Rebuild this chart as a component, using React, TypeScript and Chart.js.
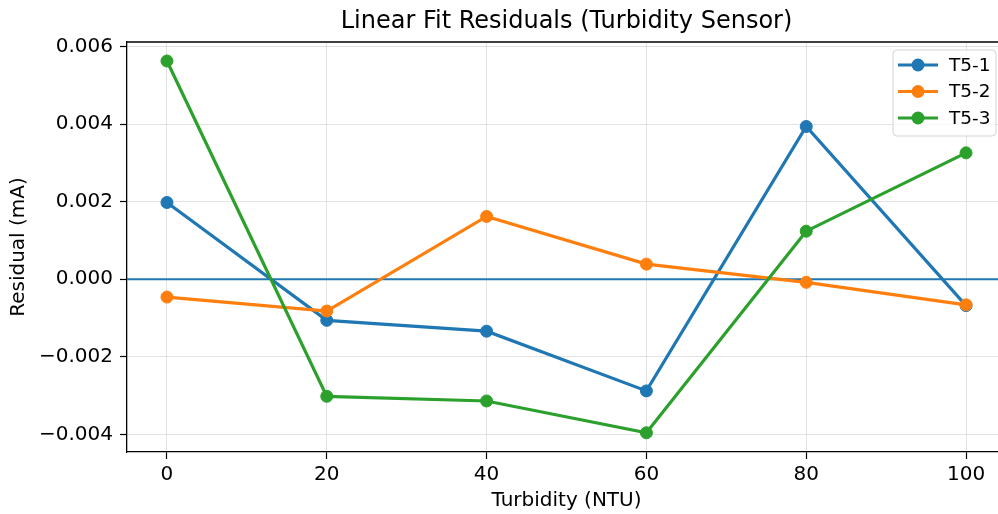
import React, { useEffect, useRef } from "react";
import { Chart, registerables } from "chart.js";

Chart.register(...registerables);

const turbidity = [0, 20, 40, 60, 80, 100];
const t51 = [0.00198, -0.00106, -0.00134, -0.00288, 0.00394, -0.00068];
const t52 = [-0.00046, -0.00082, 0.00162, 0.00039, -0.00008, -0.00066];
const t53 = [0.00563, -0.00302, -0.00314, -0.00396, 0.00124, 0.00326];
const seriesNames = ["T5-1", "T5-2", "T5-3"];
const seriesColors = ["#1f77b4", "#ff7f0e", "#2ca02c"];
const xTicks = [0, 20, 40, 60, 80, 100];
const yTicks = [-0.004, -0.002, 0, 0.002, 0.004, 0.006];

const FONT = "'DejaVu Sans', sans-serif";
const CANVAS_W = 1016;
const CANVAS_H = 514;

const fmtY = (v: number) => {
  const s = Math.abs(v).toFixed(3);
  return v < -1e-12 ? "\u2212" + s : s;
};

const frameLegendPlugin = {
  id: "frameLegend",
  afterDraw(chart: any) {
    const ctx = chart.ctx as CanvasRenderingContext2D;
    const a = chart.chartArea;
    ctx.save();
    // top spine
    ctx.strokeStyle = "#000";
    ctx.lineWidth = 1.3;
    ctx.beginPath();
    ctx.moveTo(a.left, a.top);
    ctx.lineTo(a.right, a.top);
    ctx.stroke();

    // legend box
    const w = 103;
    const h = 86;
    const bx = a.right - 10 - w;
    const by = a.top + 8;
    const r = 4;
    ctx.beginPath();
    ctx.moveTo(bx + r, by);
    ctx.lineTo(bx + w - r, by);
    ctx.arcTo(bx + w, by, bx + w, by + r, r);
    ctx.lineTo(bx + w, by + h - r);
    ctx.arcTo(bx + w, by + h, bx + w - r, by + h, r);
    ctx.lineTo(bx + r, by + h);
    ctx.arcTo(bx, by + h, bx, by + h - r, r);
    ctx.lineTo(bx, by + r);
    ctx.arcTo(bx, by, bx + r, by, r);
    ctx.closePath();
    ctx.fillStyle = "rgba(255,255,255,0.8)";
    ctx.fill();
    ctx.strokeStyle = "#d4d4d4";
    ctx.lineWidth = 1;
    ctx.stroke();

    seriesNames.forEach((name, i) => {
      const cy = by + 15 + i * 26.5;
      ctx.strokeStyle = seriesColors[i];
      ctx.lineWidth = 3.2;
      ctx.beginPath();
      ctx.moveTo(bx + 5, cy);
      ctx.lineTo(bx + 45, cy);
      ctx.stroke();
      ctx.fillStyle = seriesColors[i];
      ctx.beginPath();
      ctx.arc(bx + 25, cy, 6.5, 0, Math.PI * 2);
      ctx.fill();
      ctx.fillStyle = "#000";
      ctx.font = `18.5px ${FONT}`;
      ctx.textBaseline = "middle";
      ctx.textAlign = "left";
      ctx.fillText(name, bx + 56, cy + 1);
    });
    ctx.restore();
  },
};

export default function App() {
  const ref = useRef<HTMLCanvasElement | null>(null);

  useEffect(() => {
    if (!ref.current) return;
    const series = [t51, t52, t53];
    const datasets: any[] = series.map((vals, i) => ({
      label: seriesNames[i],
      data: turbidity.map((x, j) => ({ x, y: vals[j] })),
      borderColor: seriesColors[i],
      backgroundColor: seriesColors[i],
      pointBackgroundColor: seriesColors[i],
      pointBorderColor: seriesColors[i],
      borderWidth: 3.2,
      pointRadius: 6,
      pointBorderWidth: 1,
      tension: 0,
      order: 3 - i,
    }));
    datasets.push({
      label: "zero",
      data: [
        { x: -5, y: 0 },
        { x: 105, y: 0 },
      ],
      borderColor: "#1f77b4",
      borderWidth: 2,
      pointRadius: 0,
      order: 10,
    });

    const tickFont = { family: FONT, size: 20 };
    const chart = new Chart(ref.current, {
      type: "line",
      data: { datasets },
      plugins: [frameLegendPlugin],
      options: {
        animation: false,
        responsive: false,
        devicePixelRatio: 1,
        events: [],
        layout: { padding: { left: 0, right: CANVAS_W - 1006, top: 0, bottom: 0 } },
        plugins: {
          legend: { display: false },
          tooltip: { enabled: false },
          title: {
            display: true,
            text: "Linear Fit Residuals (Turbidity Sensor)",
            color: "#000",
            font: { family: FONT, size: 24, weight: "normal", lineHeight: 1.15 },
            padding: { top: 8, bottom: 6.4 },
            fullSize: false,
          } as any,
        },
        scales: {
          x: {
            type: "linear",
            min: -5,
            max: 105,
            afterBuildTicks: (s: any) => {
              s.ticks = xTicks.map((v) => ({ value: v }));
            },
            afterFit: (s: any) => {
              s.height = 62;
            },
            ticks: {
              font: tickFont,
              color: "#000",
              padding: 4,
              maxRotation: 0,
              autoSkip: false,
              callback: (v: any) => String(v),
            },
            grid: {
              color: "rgba(0,0,0,0.11)",
              lineWidth: 1,
              tickColor: "#000",
              tickLength: 7,
              tickWidth: 1.2,
            },
            border: { color: "#000", width: 1.3 },
            title: {
              display: true,
              text: "Turbidity (NTU)",
              color: "#000",
              font: { family: FONT, size: 20 },
              padding: { top: 0, bottom: 1 },
            },
          },
          y: {
            type: "linear",
            min: -0.004456,
            max: 0.00612,
            afterBuildTicks: (s: any) => {
              s.ticks = yTicks.map((v) => ({ value: v }));
            },
            afterFit: (s: any) => {
              s.width = 127;
            },
            ticks: {
              font: tickFont,
              color: "#000",
              padding: 7,
              autoSkip: false,
              callback: (v: any) => fmtY(Number(v)),
            },
            grid: {
              color: "rgba(0,0,0,0.11)",
              lineWidth: 1,
              tickColor: "#000",
              tickLength: 7,
              tickWidth: 1.2,
            },
            border: { color: "#000", width: 1.3 },
            title: {
              display: true,
              text: "Residual (mA)",
              color: "#000",
              font: { family: FONT, size: 20 },
              padding: { top: 7, bottom: 0 },
            },
          },
        },
      } as any,
    });
    return () => chart.destroy();
  }, []);

  return (
    <div
      style={{
        position: "fixed",
        left: 0,
        top: 0,
        width: 998,
        height: 514,
        overflow: "hidden",
        background: "#fff",
      }}
    >
      <canvas
        ref={ref}
        width={CANVAS_W}
        height={CANVAS_H}
        style={{ width: CANVAS_W, height: CANVAS_H, display: "block" }}
      />
    </div>
  );
}
